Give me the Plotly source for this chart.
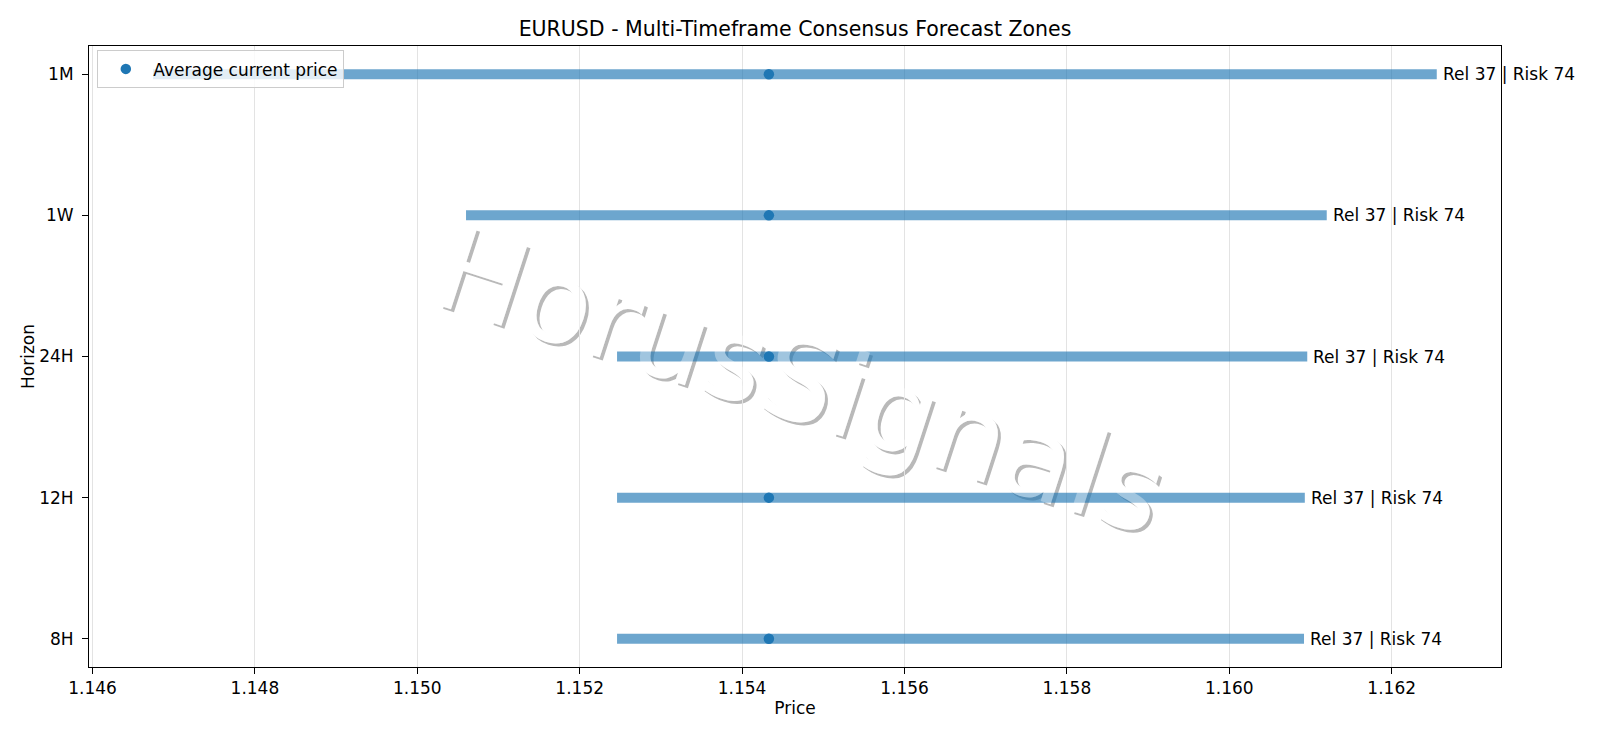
import plotly.graph_objects as go

# ---- data ----
horizons = ["8H", "12H", "24H", "1W", "1M"]
zone_low = [1.15246, 1.15246, 1.15246, 1.15060, 1.146745]
zone_high = [1.16092, 1.16093, 1.16096, 1.16120, 1.162555]
avg_current_price = [1.15433, 1.15433, 1.15433, 1.15433, 1.15433]
rel_scores = [37, 37, 37, 37, 37]
risk_scores = [74, 74, 74, 74, 74]
x_ticks = [1.146, 1.148, 1.150, 1.152, 1.154, 1.156, 1.158, 1.160, 1.162]

title = "EURUSD - Multi-Timeframe Consensus Forecast Zones"
watermark = "HorusSignals"

FONT = "DejaVu Sans"
BLUE = "#1f77b4"
TXT = 17

fig = go.Figure()

# zone bars
bx, by = [], []
for h, lo, hi in zip(horizons, zone_low, zone_high):
    bx += [lo, hi, None]
    by += [h, h, None]
fig.add_trace(go.Scatter(
    x=bx, y=by, mode="lines",
    line=dict(color="rgba(31,119,180,0.65)", width=10),
    showlegend=False, hoverinfo="skip",
))

# average current price
fig.add_trace(go.Scatter(
    x=avg_current_price, y=horizons, mode="markers",
    marker=dict(color=BLUE, size=10.5),
    name="Average current price",
))

annotations = []
for h, hi, r, k in zip(horizons, zone_high, rel_scores, risk_scores):
    annotations.append(dict(
        x=hi, y=h, xref="x", yref="y", text=f"Rel {r} | Risk {k}",
        showarrow=False, xanchor="left", yanchor="middle", xshift=4,
        font=dict(family=FONT, size=TXT, color="black"),
    ))

# watermark (shadow + white fill below traces, translucent white above)
wx, wy, wsize, wang = 0.5064, 0.4734, 116, 18
sdx, sdy = 3 / 1412, 3 / 621
shapes = []
def wm(dx, dy, color, layer):
    return dict(
        type="rect", xref="paper", yref="paper",
        x0=wx + dx, x1=wx + dx, y0=wy + dy, y1=wy + dy,
        line=dict(width=0), fillcolor="rgba(0,0,0,0)", layer=layer,
        label=dict(text=watermark, textangle=wang, textposition="middle center",
                   font=dict(family=FONT, size=wsize, color=color)),
    )
shapes.append(wm(sdx, -sdy, "rgba(100,100,100,0.45)", "between"))
shapes.append(wm(0, 0, "white", "between"))
shapes.append(wm(0, 0, "rgba(255,255,255,0.35)", "above"))

fig.update_layout(
    width=1600, height=738,
    margin=dict(l=89, r=99, t=46, b=71),
    paper_bgcolor="white", plot_bgcolor="white",
    font=dict(family=FONT, size=TXT, color="black"),
    title=dict(text=title, x=0.5, xref="paper", xanchor="center",
               y=1 - 28.6 / 738, yanchor="middle",
               font=dict(family=FONT, size=20.5, color="black")),
    xaxis=dict(
        range=[1.145957, 1.163346], tickvals=x_ticks,
        ticktext=[f"{v:.3f}" for v in x_ticks],
        showgrid=True, gridcolor="#e3e3e3", gridwidth=1,
        showline=True, linecolor="black", linewidth=1, mirror=True,
        ticks="outside", ticklen=6, tickcolor="black", tickwidth=1,
        zeroline=False,
        title=dict(text="Price", font=dict(family=FONT, size=TXT), standoff=4),
    ),
    yaxis=dict(
        type="category", categoryorder="array", categoryarray=horizons,
        range=[-0.2, 4.2], showgrid=False,
        showline=True, linecolor="black", linewidth=1, mirror=True,
        ticks="outside", ticklen=6, tickcolor="black", tickwidth=1,
        ticklabelstandoff=5,
        zeroline=False,
        title=dict(text="Horizon", font=dict(family=FONT, size=TXT), standoff=0),
    ),
    legend=dict(
        x=0.0059, y=0.993, xanchor="left", yanchor="top",
        bgcolor="rgba(255,255,255,0.8)", bordercolor="#cccccc", borderwidth=1,
        font=dict(family=FONT, size=TXT), itemwidth=45,
    ),
    annotations=annotations,
    shapes=shapes,
)

fig.write_html(
    "out.html",
    config={"displayModeBar": False},
    post_script="document.body.style.margin='0';document.body.style.overflow='hidden';",
)
